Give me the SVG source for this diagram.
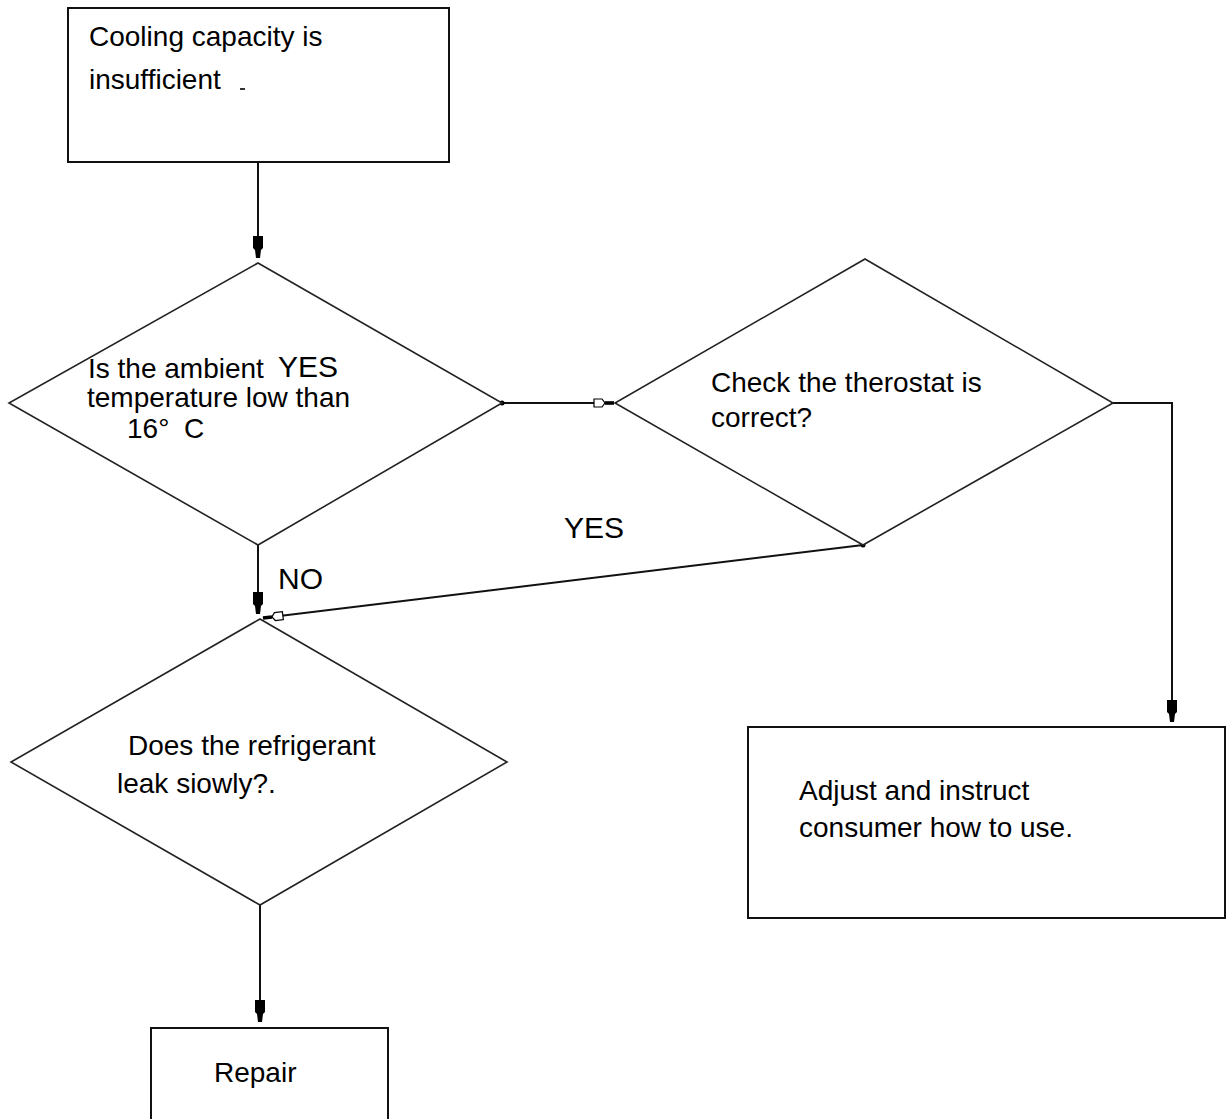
<svg xmlns="http://www.w3.org/2000/svg" width="1228" height="1119" viewBox="0 0 1228 1119">
<style>
.box{fill:#fff;stroke:#111;stroke-width:2}
.dia{fill:#fff;stroke:#222;stroke-width:1.6}
.con{fill:none;stroke:#111;stroke-width:2}
.t{font-family:"Liberation Sans",Arial,sans-serif;font-size:28px;fill:#000}
.lbl{font-family:"Liberation Sans",Arial,sans-serif;font-size:30px;fill:#000}
</style>
<defs>
<marker id="solid" markerUnits="userSpaceOnUse" viewBox="0 -6 24 12" refX="22" refY="0" markerWidth="24" markerHeight="12" orient="auto">
<path d="M0,-5 L12,-5 L14,-3 L22,-2 L22,2 L14,3 L12,5 L0,5 Z" fill="#000"/>
</marker>
<marker id="hollow" markerUnits="userSpaceOnUse" viewBox="0 -6 24 12" refX="22" refY="0" markerWidth="24" markerHeight="12" orient="auto">
<path d="M2,-4 L10,-4 L13,0 L10,4 L2,4 Z" fill="#fff" stroke="#000" stroke-width="1.2"/>
<rect x="13" y="-1.8" width="9" height="3.6" fill="#000"/>
</marker>
</defs>
<rect width="1228" height="1119" fill="#fff"/>
<g id="connectors">
<line class="con" x1="258" y1="162" x2="258" y2="258" marker-end="url(#solid)"/>
<line class="con" x1="502" y1="403" x2="614" y2="403" marker-end="url(#hollow)"/>
<circle cx="502" cy="403" r="2.5" fill="#000"/>
<polyline class="con" points="1113,403 1172,403 1172,722" marker-end="url(#solid)"/>
<line class="con" x1="258" y1="545" x2="258" y2="614" marker-end="url(#solid)"/>
<line class="con" x1="863" y1="545" x2="263" y2="618" marker-end="url(#hollow)"/>
<circle cx="863" cy="545" r="2.5" fill="#000"/>
<line class="con" x1="260" y1="905" x2="260" y2="1022" marker-end="url(#solid)"/>
</g>
<g id="start">
<rect class="box" x="68" y="8" width="381" height="154"/>
<text class="t" x="89" y="46">Cooling capacity is</text>
<text class="t" x="89" y="89">insufficient</text>
<rect x="240" y="88" width="5" height="2" fill="#333"/>
</g>
<g id="d-ambient">
<polygon class="dia" points="258,263 502,403 258,545 9,403"/>
<text class="t" x="88" y="378">Is the ambient</text>
<text class="lbl" x="278" y="377">YES</text>
<text class="t" x="87" y="407">temperature low than</text>
<text class="t" y="438"><tspan x="127">16°</tspan><tspan x="184">C</tspan></text>
</g>
<g id="d-thermostat">
<polygon class="dia" points="865,259 1113,403 863,545 615,403"/>
<text class="t" x="711" y="392">Check the therostat is</text>
<text class="t" x="711" y="427">correct?</text>
</g>
<g id="labels">
<text class="lbl" x="564" y="538">YES</text>
<text class="lbl" x="278" y="589">NO</text>
</g>
<g id="d-leak">
<polygon class="dia" points="260,619 507,762 260,905 11,762"/>
<text class="t" x="128" y="755">Does the refrigerant</text>
<text class="t" x="117" y="793">leak siowly?.</text>
</g>
<g id="adjust">
<rect class="box" x="748" y="727" width="477" height="191"/>
<text class="t" x="799" y="800">Adjust and instruct</text>
<text class="t" x="799" y="837">consumer how to use.</text>
</g>
<g id="repair">
<rect class="box" x="151" y="1028" width="237" height="110"/>
<text class="t" x="214" y="1082">Repair</text>
</g>
</svg>
